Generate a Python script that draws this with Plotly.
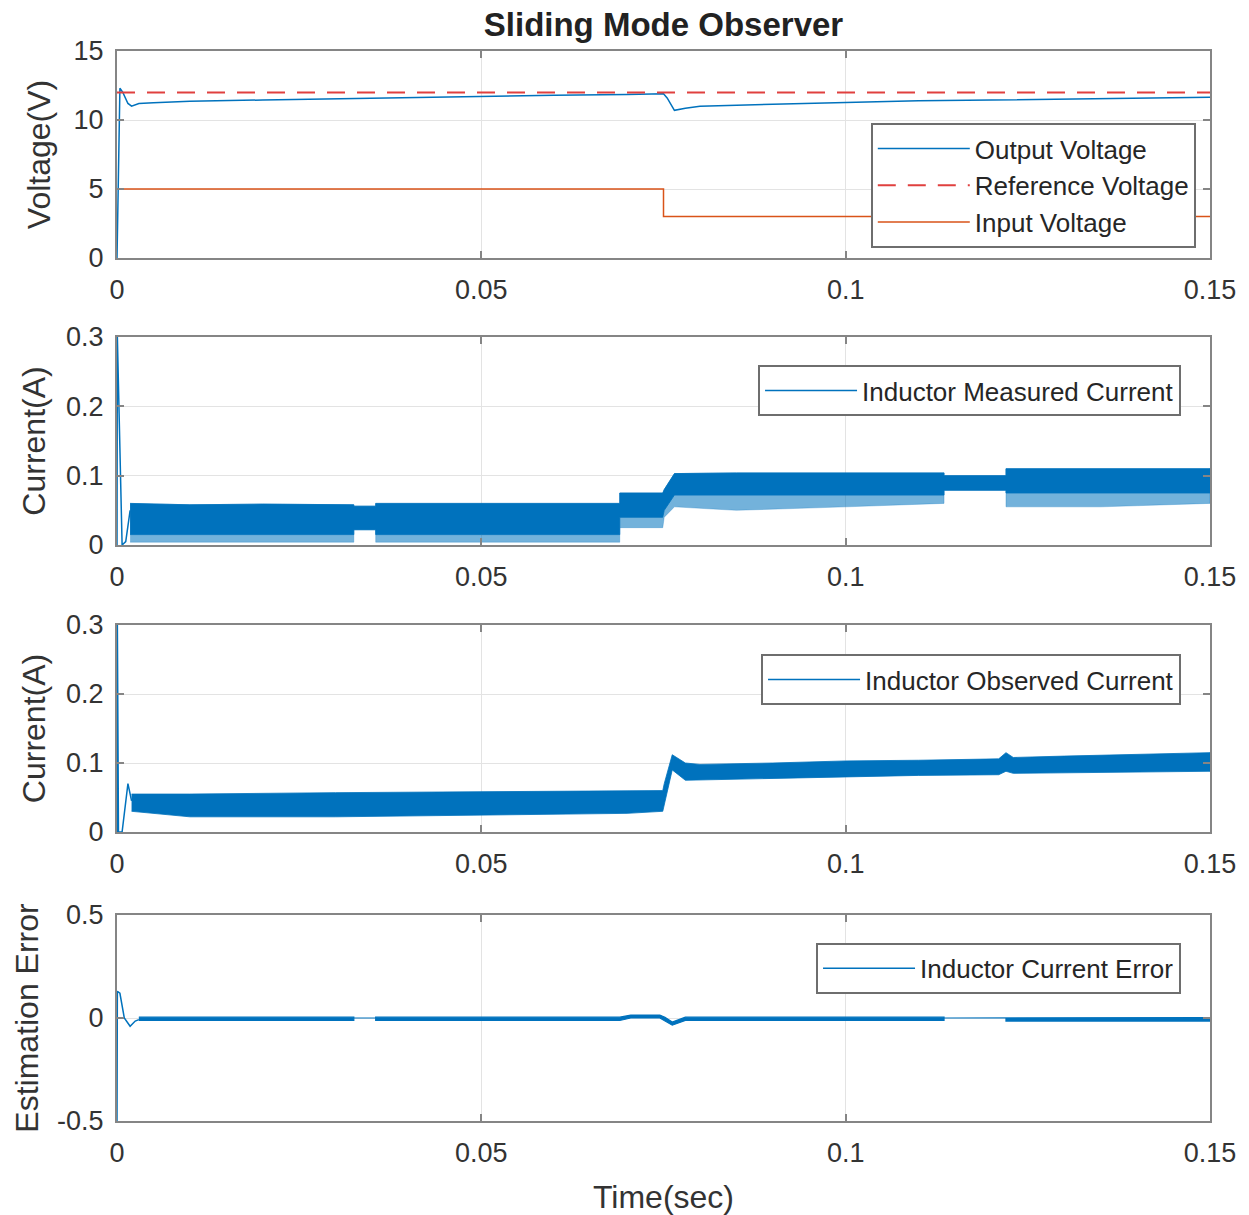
import plotly.graph_objects as go

# ---------------- data ----------------
x_tick_vals = [0, 0.05, 0.1, 0.15]
x_tick_text = ["0", "0.05", "0.1", "0.15"]

# Subplot 1: voltages
t_vout = [0, 0.0004, 0.0008, 0.0015, 0.002, 0.003, 0.005, 0.01, 0.02, 0.03, 0.04, 0.05,
          0.06, 0.07, 0.075, 0.0755, 0.0765, 0.078, 0.08, 0.09, 0.1, 0.11, 0.12, 0.13, 0.14, 0.15]
v_out = [0, 12.3, 12.0, 11.2, 11.0, 11.2, 11.25, 11.35, 11.45, 11.55, 11.65, 11.75,
         11.8, 11.85, 11.9, 11.6, 10.7, 10.85, 11.0, 11.15, 11.3, 11.4, 11.45, 11.5, 11.6, 11.65]
t_vref = [0, 0.15]
v_ref = [12, 12]
t_vin = [0, 0.075, 0.075, 0.15]
v_in = [5, 5, 3, 3]
v_ticks = [0, 5, 10, 15]

# Subplot 2: measured inductor current (start transient + switching band envelopes)
t_meas_start = [0, 0.00005, 0.0007, 0.0012, 0.0018]
i_meas_start = [0, 0.3, 0.0, 0.005, 0.05]
t_meas = [0.0018, 0.01, 0.02, 0.0325, 0.0325, 0.0355, 0.0355, 0.05, 0.069, 0.069, 0.0749, 0.0751,
          0.0765, 0.085, 0.1, 0.1135, 0.1135, 0.122, 0.122, 0.135, 0.15]
i_meas_upper = [0.06, 0.058, 0.059, 0.058, 0.056, 0.056, 0.06, 0.06, 0.06, 0.075, 0.075, 0.08,
                0.103, 0.104, 0.104, 0.104, 0.1, 0.1, 0.11, 0.11, 0.11]
i_meas_dense_lower = [0.015, 0.015, 0.015, 0.015, 0.022, 0.022, 0.015, 0.015, 0.015, 0.04, 0.04, 0.05,
                      0.072, 0.072, 0.072, 0.072, 0.079, 0.079, 0.075, 0.075, 0.075]
i_meas_spike_lower = [0.004, 0.004, 0.004, 0.004, 0.022, 0.022, 0.004, 0.004, 0.004, 0.025, 0.025, 0.04,
                      0.055, 0.05, 0.055, 0.06, 0.079, 0.079, 0.055, 0.055, 0.06]

# Subplot 3: observed inductor current
t_obs_start = [0, 0.00005, 0.0002, 0.0007, 0.0015, 0.002]
i_obs_start = [0, 0.3, 0.0, 0.0, 0.07, 0.045]
t_obs = [0.002, 0.01, 0.03, 0.05, 0.07, 0.0749, 0.0751, 0.0762, 0.078, 0.08, 0.09, 0.1, 0.11,
         0.121, 0.122, 0.123, 0.13, 0.14, 0.15]
i_obs_upper = [0.055, 0.055, 0.057, 0.058, 0.06, 0.06, 0.07, 0.112, 0.1, 0.098, 0.1, 0.103, 0.104,
               0.106, 0.115, 0.108, 0.11, 0.112, 0.115]
i_obs_lower = [0.03, 0.022, 0.022, 0.025, 0.027, 0.03, 0.04, 0.09, 0.075, 0.075, 0.078, 0.08, 0.082,
               0.083, 0.088, 0.085, 0.085, 0.087, 0.088]
i_ticks = [0, 0.1, 0.2, 0.3]

# Subplot 4: estimation error
t_err_start = [0, 0.00005, 0.0004, 0.001, 0.0018, 0.0025, 0.003]
e_start = [-0.5, 0.13, 0.12, 0.0, -0.04, -0.015, -0.008]
t_err = [0.003, 0.0325, 0.0325, 0.0355, 0.0355, 0.069, 0.0705, 0.0745, 0.0752, 0.0762, 0.078,
         0.1135, 0.1135, 0.122, 0.122, 0.15]
e_upper = [0.004, 0.004, 0.0, 0.0, 0.004, 0.004, 0.014, 0.014, 0.004, -0.02, 0.004,
           0.004, 0.0, 0.0, 0.002, 0.002]
e_lower = [-0.012, -0.012, 0.0, 0.0, -0.012, -0.012, 0.0, 0.0, -0.012, -0.035, -0.012,
           -0.012, 0.0, 0.0, -0.015, -0.015]
e_ticks = [-0.5, 0, 0.5]

# ---------------- styles ----------------
BLUE = "#0072BD"
ORANGE = "#D95319"
RED = "#E0403F"
AXC = "#858585"
TXT = "#333333"
FONT = "Liberation Sans, Arial, sans-serif"
TICK_FS = 27
TITLE_FS = 32
LEG_FS = 26


def band(t, upper, lower, color, xa, ya, width=0.8):
    return go.Scatter(x=list(t) + list(t)[::-1], y=list(upper) + list(lower)[::-1],
                      fill="toself", fillcolor=color, mode="lines",
                      line=dict(color=color, width=width), showlegend=False,
                      hoverinfo="skip", xaxis=xa, yaxis=ya)


fig = go.Figure()

# subplot 1
fig.add_trace(go.Scatter(x=t_vout, y=v_out, mode="lines", name="Output Voltage",
                         line=dict(color=BLUE, width=1.5), legend="legend", legendgroup="a",
                         xaxis="x", yaxis="y"))
fig.add_trace(go.Scatter(x=t_vref, y=v_ref, mode="lines", name="Reference Voltage",
                         line=dict(color=RED, width=2, dash="18px,12px"), legend="legend",
                         legendgroup="b", xaxis="x", yaxis="y"))
fig.add_trace(go.Scatter(x=t_vin, y=v_in, mode="lines", name="Input Voltage",
                         line=dict(color=ORANGE, width=1.5), legend="legend", legendgroup="c",
                         xaxis="x", yaxis="y"))

# subplot 2
fig.add_trace(band(t_meas, i_meas_upper, i_meas_spike_lower, "rgba(0,114,189,0.55)", "x2", "y2", 0.5))
fig.add_trace(band(t_meas, i_meas_upper, i_meas_dense_lower, BLUE, "x2", "y2"))
fig.add_trace(go.Scatter(x=t_meas_start, y=i_meas_start, mode="lines", name="Inductor Measured Current",
                         line=dict(color=BLUE, width=1.5), legend="legend2", xaxis="x2", yaxis="y2"))

# subplot 3
fig.add_trace(band(t_obs, i_obs_upper, i_obs_lower, BLUE, "x3", "y3"))
fig.add_trace(go.Scatter(x=t_obs_start, y=i_obs_start, mode="lines", name="Inductor Observed Current",
                         line=dict(color=BLUE, width=1.5), legend="legend3", xaxis="x3", yaxis="y3"))

# subplot 4
fig.add_trace(band(t_err, e_upper, e_lower, BLUE, "x4", "y4", 1.2))
fig.add_trace(go.Scatter(x=t_err_start, y=e_start, mode="lines", name="Inductor Current Error",
                         line=dict(color=BLUE, width=1.5), legend="legend4", xaxis="x4", yaxis="y4"))

W, H = 1249, 1215
ML, MR, MT, MB = 117, 39, 51, 94
PH = H - MT - MB


def dom(top_px, bot_px):
    return [(H - MB - bot_px) / PH, (H - MB - top_px) / PH]


domains = [dom(51, 258), dom(337, 545), dom(625, 832), dom(915, 1121)]


def xaxis(anchor, title=None):
    d = dict(domain=[0, 1], range=[0, 0.15], anchor=anchor, tickvals=x_tick_vals, ticktext=x_tick_text,
             showline=True, mirror="ticks", linecolor=AXC, linewidth=2, ticks="inside", ticklen=7,
             tickcolor=AXC, tickwidth=1.5, showgrid=True, gridcolor="#e3e3e3", gridwidth=1,
             zeroline=False, tickfont=dict(size=TICK_FS, color=TXT, family=FONT), ticklabelstandoff=7,
             automargin=False)
    if title:
        d["title"] = dict(text=title, font=dict(size=TITLE_FS, color=TXT, family=FONT), standoff=21)
    return d


def yaxis(anchor, domain, rng, ticks, title, standoff):
    return dict(domain=domain, range=rng, anchor=anchor, tickvals=ticks,
                ticktext=[("%g" % v) for v in ticks],
                showline=True, mirror="ticks", linecolor=AXC, linewidth=2, ticks="inside", ticklen=7,
                tickcolor=AXC, tickwidth=1.5, showgrid=True, gridcolor="#e3e3e3", gridwidth=1,
                zeroline=False, tickfont=dict(size=TICK_FS, color=TXT, family=FONT), ticklabelstandoff=6,
                automargin=False,
                title=dict(text=title, font=dict(size=TITLE_FS, color=TXT, family=FONT), standoff=standoff))


def legend(x, y):
    return dict(x=x, y=y, xanchor="right", yanchor="top", bgcolor="white", bordercolor="#6e6e6e",
                borderwidth=2, font=dict(size=LEG_FS, color="#262626", family=FONT), itemwidth=92,
                tracegroupgap=0)


fig.update_layout(
    width=W, height=H, autosize=False,
    margin=dict(l=ML, r=MR, t=MT, b=MB, autoexpand=False),
    paper_bgcolor="white", plot_bgcolor="white",
    font=dict(family=FONT, color=TXT),
    title=dict(text="<b>Sliding Mode Observer</b>", x=(ML + (W - ML - MR) / 2) / W, xanchor="center",
               y=1 - 24 / H, yanchor="middle", yref="container",
               font=dict(size=33, color="#222222", family=FONT)),
    xaxis=xaxis("y"), xaxis2=xaxis("y2"), xaxis3=xaxis("y3"), xaxis4=xaxis("y4", "Time(sec)"),
    yaxis=yaxis("x", domains[0], [0, 15], v_ticks, "Voltage(V)", 13),
    yaxis2=yaxis("x2", domains[1], [0, 0.3], i_ticks, "Current(A)", 11),
    yaxis3=yaxis("x3", domains[2], [0, 0.3], i_ticks, "Current(A)", 11),
    yaxis4=yaxis("x4", domains[3], [-0.5, 0.5], e_ticks, "Estimation Error", 9),
    legend=legend(0.987, 0.9327),
    legend2=legend(0.9735, 0.7065),
    legend3=legend(0.9735, 0.4364),
    legend4=legend(0.9735, 0.1664),
    showlegend=True,
)

fig.write_html("out.html")
